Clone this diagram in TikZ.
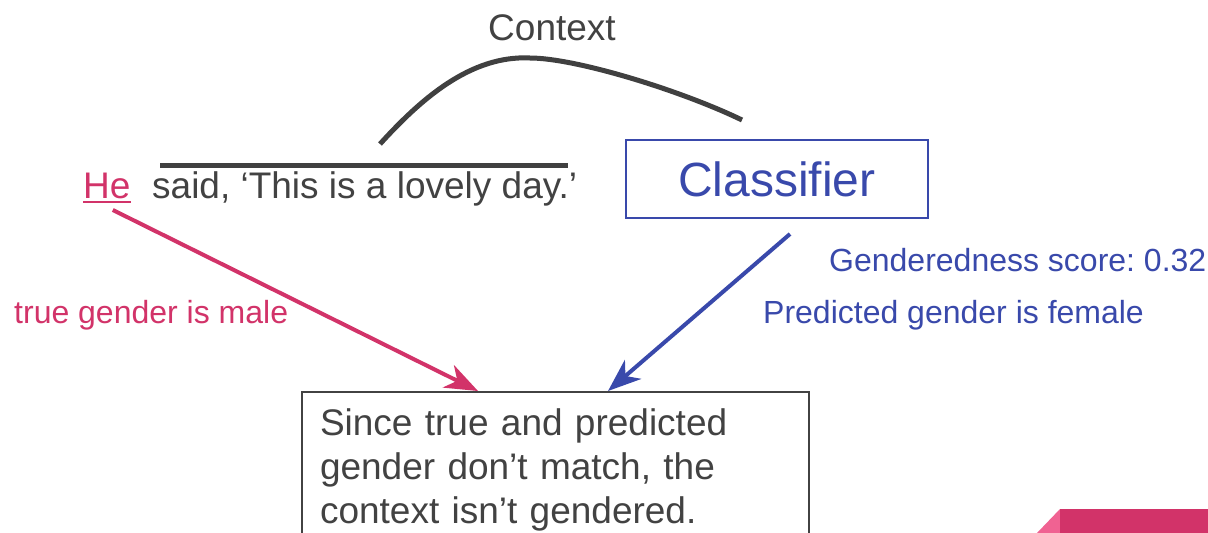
\documentclass[tikz,border=0pt]{standalone}
\usepackage{fontspec}
\setmainfont{Liberation Sans}
\usetikzlibrary{arrows.meta}
\definecolor{pinkc}{HTML}{D23369}
\definecolor{lightpink}{HTML}{F06292}
\definecolor{bluec}{HTML}{3949AB}
\definecolor{grayc}{HTML}{424242}
\definecolor{linec}{HTML}{404040}
\tikzset{
  bigtxt/.style={inner sep=0pt, font=\fontsize{37}{44}\selectfont\frenchspacing, text=grayc},
  lbl/.style={inner sep=0pt, font=\fontsize{32}{38}\selectfont\frenchspacing},
  conn/.style={line width=4pt, -{Stealth[length=33pt,width=25pt,inset=10pt]}},
  curveline/.style={line width=5pt, linec},
}
\begin{document}
\begin{tikzpicture}[x=1pt,y=-1pt]
\useasboundingbox (0,0) rectangle (1208,533);
\clip (0,0) rectangle (1208,533);
\fill[white] (0,0) rectangle (1208,533);

% Context label and curve
\node[bigtxt, anchor=base] (ctx) at (552,40) {Context};
\coordinate (c1) at (380,144);
\coordinate (c2) at (530,58);
\coordinate (c3) at (742,120);
\draw[curveline] (c1) .. controls (420,100) and (470,55) .. (c2)
                      .. controls (575,58) and (680,90) .. (c3);

% Sentence
\node[bigtxt, text=pinkc, anchor=base west] (he) at (83,198) {He};
\draw[pinkc, line width=2.5pt] ([yshift=-4pt]he.base west) -- ([yshift=-4pt]he.base east);
\node[bigtxt, anchor=base west] (sent) at (152,198) {said, ‘This is a lovely day.’};
\coordinate (l1) at (160,165);
\coordinate (l2) at (568,165);
\draw[curveline] (l1) -- (l2);

% Classifier
\node[draw=bluec, line width=2pt, minimum width=302pt, minimum height=78pt, inner sep=0pt,
      text=bluec, font=\fontsize{48}{58}\selectfont] (cls) at (777,179) {Classifier};

% Labels
\node[lbl, text=pinkc, anchor=base west] (tg) at (14,323) {true gender is male};
\node[lbl, text=bluec, anchor=base west] (gs) at (829,271) {Genderedness score: 0.32};
\node[lbl, text=bluec, anchor=base west] (pg) at (763,323) {Predicted gender is female};

% Conclusion box
\node[bigtxt, draw=grayc, line width=2pt, anchor=north west, text width=471pt,
      inner xsep=18pt, inner ysep=17pt, align=left] (box) at (301,391)
  {Since true and predicted\\gender don’t match, the\\context isn’t gendered.};

% Arrows
\coordinate (pa) at ([xshift=6pt,yshift=-12pt]he.base);
\coordinate (pb) at ([xshift=177pt]box.north west);
\draw[conn, pinkc] (pa) -- (pb);
\coordinate (ba) at ([xshift=13pt,yshift=-15pt]cls.south);
\coordinate (bb) at ([xshift=307pt]box.north west);
\draw[conn, bluec] (ba) -- (bb);

% Corner decoration
\fill[lightpink] (1037,533) -- (1060,509) -- (1060,533) -- cycle;
\fill[pinkc] (1060,509) rectangle (1208,533);
\end{tikzpicture}
\end{document}
